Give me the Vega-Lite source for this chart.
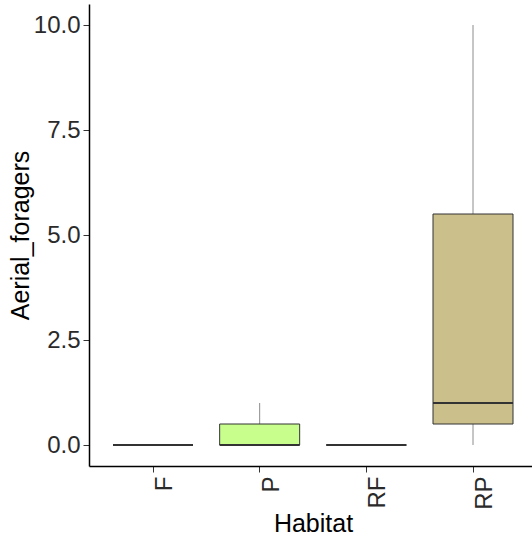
{
  "$schema": "https://vega.github.io/schema/vega-lite/v6.json",
  "autosize": {"type": "none"},
  "padding": {"left": 89, "top": 4, "right": 0, "bottom": 76},
  "width": 448,
  "height": 462,
  "background": "white",
  "data": {"values": [
    {"Habitat": "F", "lower": 0, "q1": 0, "median": 0, "q3": 0, "upper": 0},
    {"Habitat": "P", "lower": 0, "q1": 0, "median": 0, "q3": 0.5, "upper": 1},
    {"Habitat": "RF", "lower": 0, "q1": 0, "median": 0, "q3": 0, "upper": 0},
    {"Habitat": "RP", "lower": 0, "q1": 0.5, "median": 1, "q3": 5.5, "upper": 10}
  ]},
  "config": {
    "view": {"stroke": null},
    "font": "Liberation Sans",
    "axis": {
      "grid": false,
      "domainColor": "black",
      "domainWidth": 1.5,
      "tickColor": "#333333",
      "tickSize": 6,
      "tickWidth": 1,
      "labelColor": "#2a2a2a",
      "labelFont": "Liberation Sans",
      "labelFontSize": 24,
      "titleFont": "Liberation Sans",
      "titleFontSize": 25,
      "titleFontWeight": "normal",
      "titleColor": "black"
    }
  },
  "encoding": {
    "x": {
      "field": "Habitat",
      "type": "nominal",
      "sort": ["F", "P", "RF", "RP"],
      "scale": {"paddingInner": 0.25, "paddingOuter": 0.225},
      "axis": {"title": "Habitat", "labelAngle": -90, "labelBaseline": "top", "labelAlign": "right", "labelPadding": 4, "titlePadding": 2}
    }
  },
  "layer": [
    {
      "mark": {"type": "rule", "color": "#8c8c8c", "strokeWidth": 1},
      "encoding": {
        "y": {
          "field": "lower",
          "type": "quantitative",
          "scale": {"domain": [-0.5, 10.5], "nice": false, "zero": false},
          "axis": {"title": "Aerial_foragers", "values": [0, 2.5, 5, 7.5, 10], "format": ".1f", "labelPadding": 3, "titlePadding": 0}
        },
        "y2": {"field": "upper"}
      }
    },
    {
      "mark": {"type": "bar", "stroke": "#333333", "strokeWidth": 1},
      "encoding": {
        "y": {"field": "q1", "type": "quantitative"},
        "y2": {"field": "q3"},
        "fill": {
          "field": "Habitat",
          "type": "nominal",
          "scale": {"domain": ["F", "P", "RF", "RP"], "range": ["#f0f0f0", "#c8fe8c", "#f0f0f0", "#cbbf8c"]},
          "legend": null
        }
      }
    },
    {
      "mark": {"type": "bar", "stroke": "#333333", "strokeWidth": 2, "fillOpacity": 0},
      "encoding": {
        "y": {"field": "median", "type": "quantitative"},
        "y2": {"field": "median"}
      }
    }
  ]
}
